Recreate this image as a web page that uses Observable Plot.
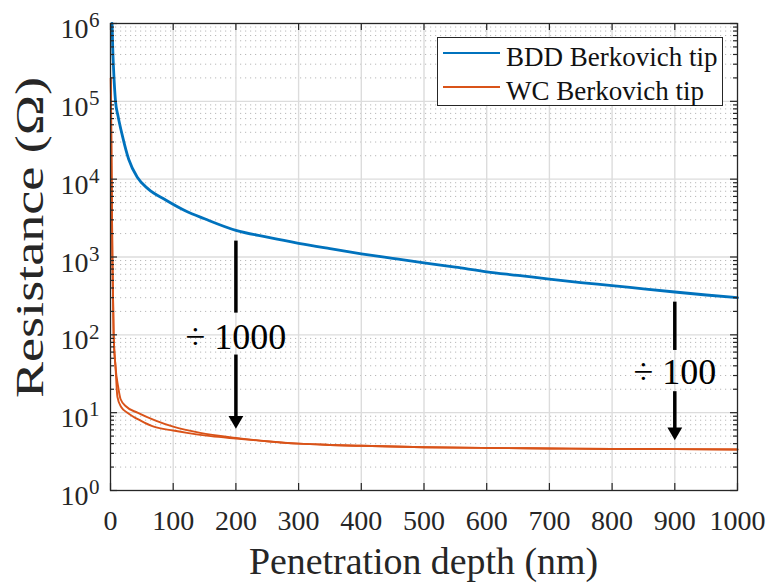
<!DOCTYPE html>
<html>
<head>
<meta charset="utf-8">
<script src="https://cdn.jsdelivr.net/npm/d3@7"></script>
<script src="https://cdn.jsdelivr.net/npm/@observablehq/plot@0.6"></script>
<style>
  body { margin: 0; background: white; }
  #chart { width: 771px; height: 583px; }
</style>
</head>
<body>
<div id="chart"></div>
<script>
// ---- data ----
const bddDepth = [2.5, 3.5, 5, 8, 12, 19, 29, 43, 60, 88, 120, 150, 200, 250, 300, 350, 400, 450, 500, 550, 600, 650, 700, 750, 800, 850, 900, 950, 1000];
const bddR     = [1e6, 5e5, 2.5e5, 1e5, 6.5e4, 3.6e4, 1.8e4, 1.05e4, 7.5e3, 5.4e3, 3.9e3, 3.1e3, 2.2e3, 1.8e3, 1.5e3, 1.28e3, 1.1e3, 960, 840, 740, 645, 580, 520, 470, 430, 390, 355, 325, 300];

const wcOuterDepth = [0.5, 1.5, 3, 5, 8, 12, 16, 25, 43, 72, 100, 143, 200, 250, 300, 350, 400, 500, 600, 700, 800, 900, 1000];
const wcOuterR     = [2e5, 2e4, 1e3, 100, 39, 22, 15, 12, 10, 7.9, 6.6, 5.5, 4.75, 4.3, 4.0, 3.85, 3.75, 3.6, 3.52, 3.47, 3.42, 3.4, 3.37];
const wcInnerDepth = [0.5, 1.5, 3, 5, 8, 11, 17, 27, 48, 69, 100, 122, 160, 200, 250, 300, 350, 400, 500, 600, 700, 800, 900, 1000];
const wcInnerR     = [2e5, 2e4, 1e3, 100, 39, 16, 11.8, 10, 7.9, 6.6, 5.9, 5.5, 5.0, 4.65, 4.28, 4.0, 3.85, 3.75, 3.6, 3.52, 3.47, 3.42, 3.4, 3.37];

const xTicks = [0, 100, 200, 300, 400, 500, 600, 700, 800, 900, 1000];
const yExps = [0, 1, 2, 3, 4, 5, 6];
const yMinor = [];
for (const k of [0, 1, 2, 3, 4, 5]) for (const m of [2, 3, 4, 5, 6, 7, 8, 9]) yMinor.push(m * 10 ** k);

// annotation arrows: x position, upper stem, label, lower stem with head
const annX      = [200, 900];
const annText   = ["÷ 1000", "÷ 100"];
const annTop1   = [1600, 263];
const annBot1   = [190, 63];
const annLabelY = [93, 33];
const annTop2   = [55, 18.6];
const annTip    = [6.3, 4.5];

const xLabel = "Penetration depth (nm)";
const yLabel = "Resistance (Ω)";
const seriesNames = ["BDD Berkovich tip", "WC Berkovich tip"];
const seriesColors = ["#0072BD", "#D95319"];

// ---- tables ----
const bdd = bddDepth.map((d, i) => ({d, r: bddR[i]}));
const wcOuter = wcOuterDepth.map((d, i) => ({d, r: wcOuterR[i]}));
const wcInner = wcInnerDepth.map((d, i) => ({d, r: wcInnerR[i]}));
const ann = annX.map((x, i) => ({x, t: annText[i], top1: annTop1[i], bot1: annBot1[i], ly: annLabelY[i], top2: annTop2[i], tip: annTip[i]}));

const W = 771, H = 583, mL = 110, mR = 34, mT = 23, mB = 93;
const fw = W - mL - mR, fh = H - mT - mB;
const ink = "#262626";

const chart = Plot.plot({
  width: W, height: H,
  marginLeft: mL, marginRight: mR, marginTop: mT, marginBottom: mB,
  x: {domain: [0, 1000], axis: null},
  y: {type: "log", domain: [1, 1e6], axis: null},
  style: {fontFamily: "Liberation Serif", background: "white", color: ink},
  marks: [
    // grids
    Plot.ruleY(yMinor, {y: d => d, stroke: "#b8b8b8", strokeWidth: 1, strokeDasharray: "1.2,3.8"}),
    Plot.ruleY(yExps.slice(1, -1), {y: d => 10 ** d, stroke: "#dcdcdc", strokeWidth: 1.4}),
    Plot.ruleX(xTicks.slice(1, -1), {x: d => d, stroke: "#dcdcdc", strokeWidth: 1.4}),
    // data
    Plot.line(wcOuter, {x: "d", y: "r", stroke: seriesColors[1], strokeWidth: 1.9, curve: "monotone-x"}),
    Plot.line(wcInner, {x: "d", y: "r", stroke: seriesColors[1], strokeWidth: 1.9, curve: "monotone-x"}),
    Plot.line(bdd, {x: "d", y: "r", stroke: seriesColors[0], strokeWidth: 2.8, curve: "monotone-x"}),
    // annotations
    Plot.ruleX(ann, {x: "x", y1: "top1", y2: "bot1", stroke: "black", strokeWidth: 3.5}),
    Plot.ruleX(ann, {x: "x", y1: "top2", y2: "tip", stroke: "black", strokeWidth: 3.5, insetBottom: 10}),
    Plot.dot(ann, {x: "x", y: "tip", symbol: "triangle", rotate: 180, r: 5.5, fill: "black", stroke: null, dy: -8}),
    Plot.text(ann, {x: "x", y: "ly", text: "t", fontSize: 36, lineAnchor: "middle", fill: "black"}),
    // frame & inward ticks
    Plot.frame({stroke: ink, strokeWidth: 1.3}),
    Plot.ruleX(xTicks, {x: d => d, stroke: ink, strokeWidth: 1.2, insetTop: fh - 7}),
    Plot.ruleX(xTicks, {x: d => d, stroke: ink, strokeWidth: 1.2, insetBottom: fh - 7}),
    Plot.ruleY(yExps, {y: d => 10 ** d, stroke: ink, strokeWidth: 1.2, insetLeft: fw - 7}),
    Plot.ruleY(yMinor, {y: d => d, stroke: ink, strokeWidth: 1.2, insetLeft: fw - 4}),
    Plot.ruleY(yExps, {y: d => 10 ** d, stroke: ink, strokeWidth: 1.2, insetRight: fw - 7}),
    Plot.ruleY(yMinor, {y: d => d, stroke: ink, strokeWidth: 1.2, insetRight: fw - 4}),
    // x tick labels
    Plot.axisX(xTicks, {anchor: "bottom", tickSize: 0, tickPadding: 20, fontSize: 28, label: null, tickFormat: d => String(d), fill: ink}),
    // y tick labels: 10 with superscript exponent
    Plot.text(yExps, {y: d => 10 ** d, frameAnchor: "left", text: () => "10", textAnchor: "end", dx: -22, dy: 5.6, lineAnchor: "middle", fontSize: 28, fill: ink}),
    Plot.text(yExps, {y: d => 10 ** d, frameAnchor: "left", text: d => String(d), textAnchor: "start", dx: -21.5, dy: -3, lineAnchor: "middle", fontSize: 21, fill: ink}),
    // axis titles (start-anchored, stretched to reference length below)
    Plot.text([xLabel], {frameAnchor: "bottom", text: d => d, textAnchor: "start", dx: -175, dy: 72, lineAnchor: "middle", fontSize: 37, fill: ink}),
    Plot.text([yLabel], {frameAnchor: "left", text: d => d, textAnchor: "start", rotate: -90, dx: -81, dy: 141, lineAnchor: "middle", fontSize: 41, fill: ink})
  ]
});

document.getElementById("chart").appendChild(chart);

// stretch the axis titles to the reference lengths
const svg = d3.select(chart);
svg.selectAll("text").each(function () {
  const t = this.textContent;
  if (t === yLabel) { this.setAttribute("textLength", 321); this.setAttribute("lengthAdjust", "spacingAndGlyphs"); }
  if (t === xLabel) { this.setAttribute("textLength", 349); this.setAttribute("lengthAdjust", "spacingAndGlyphs"); }
});

// legend box inside the axes (top right)
const lg = svg.append("g").attr("font-family", "Liberation Serif").attr("text-anchor", "start");
lg.append("rect").attr("x", 437.5).attr("y", 37.5).attr("width", 285).attr("height", 68)
  .attr("fill", "white").attr("stroke", ink).attr("stroke-width", 1);
seriesNames.forEach((name, i) => {
  const cy = 53 + i * 34;
  lg.append("line").attr("x1", 443).attr("x2", 500).attr("y1", cy).attr("y2", cy)
    .attr("stroke", seriesColors[i]).attr("stroke-width", 2);
  lg.append("text").attr("x", 506).attr("y", cy + 13).attr("font-size", 27).attr("fill", "#111")
    .attr("text-anchor", "start").text(name);
});
</script>
</body>
</html>
